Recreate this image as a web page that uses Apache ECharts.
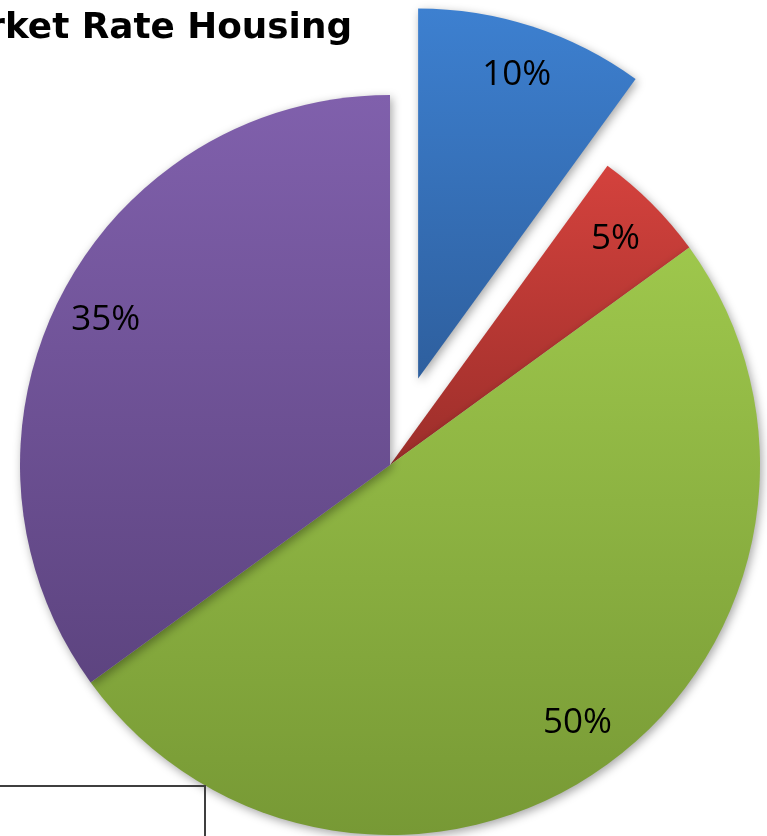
<!DOCTYPE html>
<html>
<head>
<meta charset="utf-8">
<script src="https://cdn.jsdelivr.net/npm/echarts@6/dist/echarts.min.js"></script>
<style>
html,body{margin:0;padding:0;background:#fff;}
#chart{width:767px;height:836px;}
</style>
</head>
<body>
<div id="chart"></div>
<script>
const titleText = 'Market Rate Housing';
const categories = ['Slice A', 'Slice B', 'Slice C', 'Slice D'];
const values = [10, 5, 50, 35];
const labels = ['10%', '5%', '50%', '35%'];
const exploded = [true, false, false, false];
const topColors = ['#3d80d0', '#d4423d', '#9ec74c', '#8060ac'];
const bottomColors = ['#2e5f9e', '#9c2e2a', '#779935', '#5d4480'];

const chart = echarts.init(document.getElementById('chart'), null, {renderer: 'canvas'});
const center = [390, 465];
const R = 370;
const offset = 91;

const mainData = categories.map((c, i) => ({
  name: c,
  value: values[i],
  selected: exploded[i],
  itemStyle: {
    color: new echarts.graphic.LinearGradient(0, 0, 0, 1, [
      {offset: 0, color: topColors[i]},
      {offset: 1, color: bottomColors[i]}
    ])
  }
}));
const labelData = categories.map((c, i) => ({
  name: c,
  value: values[i],
  selected: exploded[i],
  label: {formatter: labels[i]}
}));

chart.setOption({
  animation: false,
  title: {
    text: titleText,
    right: 410,
    top: 6,
    textStyle: {fontFamily: 'DejaVu Sans', fontWeight: 'bold', fontSize: 35.8, color: '#000'}
  },
  graphic: [{
    type: 'rect',
    shape: {x: -5, y: 786, width: 210, height: 80},
    style: {fill: 'none', stroke: '#3f3f3f', lineWidth: 2},
    z: 10
  }],
  series: [{
    type: 'pie',
    center: center,
    radius: [0, R],
    startAngle: 90,
    clockwise: true,
    selectedMode: 'multiple',
    selectedOffset: offset,
    avoidLabelOverlap: false,
    silent: true,
    label: {show: false},
    labelLine: {show: false},
    itemStyle: {shadowBlur: 10, shadowColor: 'rgba(0,0,0,0.35)', shadowOffsetX: 2, shadowOffsetY: 3},
    emphasis: {disabled: true},
    data: mainData
  }, {
    type: 'pie',
    center: center,
    radius: [262, R],
    startAngle: 90,
    clockwise: true,
    selectedMode: 'multiple',
    selectedOffset: offset,
    avoidLabelOverlap: false,
    silent: true,
    itemStyle: {color: 'rgba(0,0,0,0)'},
    label: {show: true, position: 'inside', fontFamily: 'Open Sans', fontSize: 35, color: '#000'},
    labelLine: {show: false},
    emphasis: {disabled: true},
    data: labelData
  }]
});
</script>
</body>
</html>
